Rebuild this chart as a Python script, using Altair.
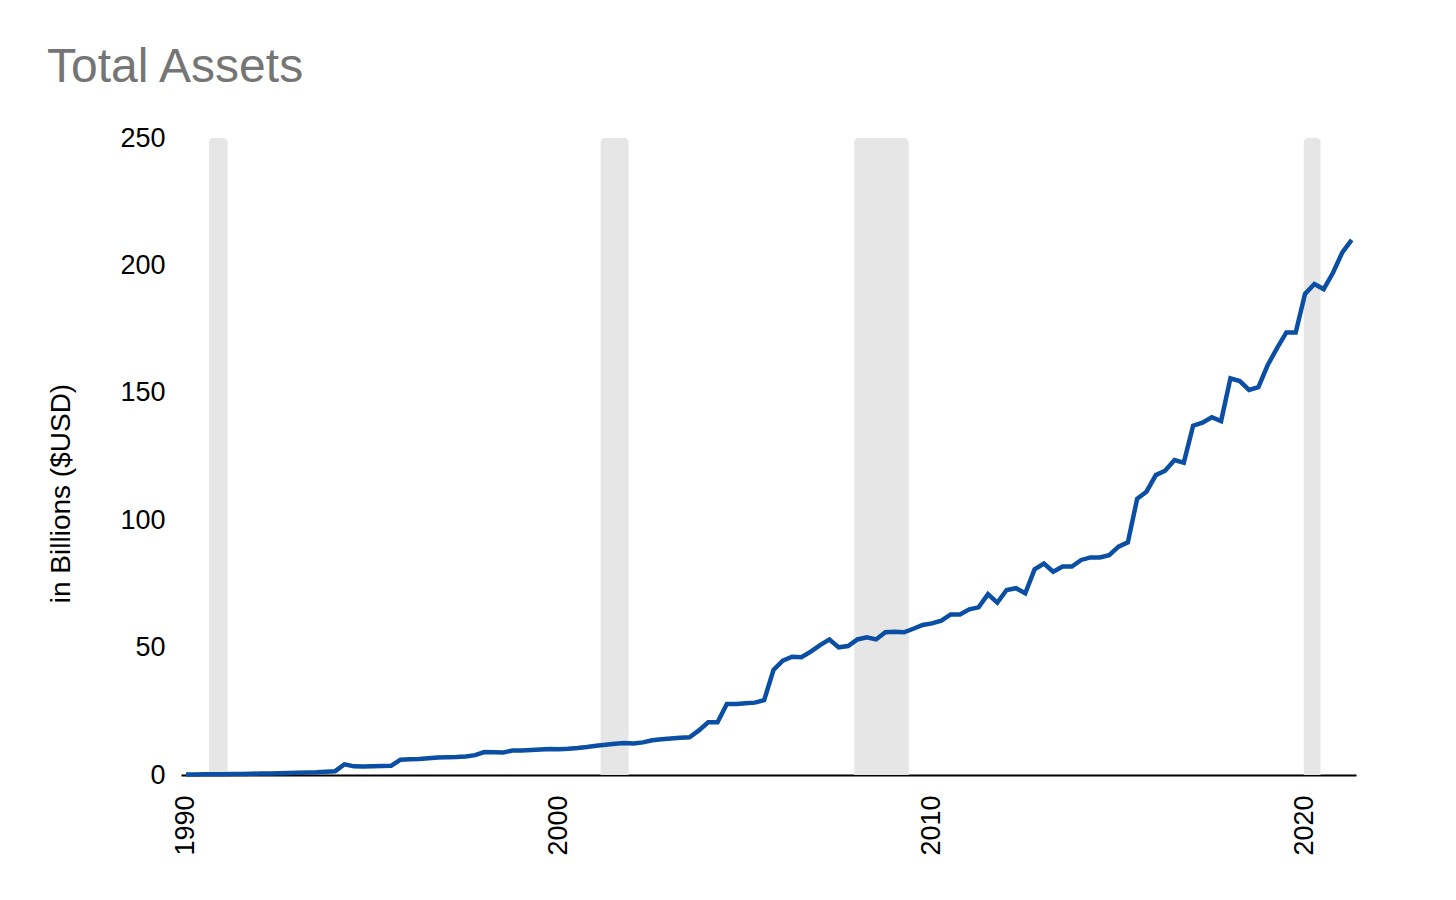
import altair as alt
import pandas as pd

# Quarterly total assets, billions USD (1990 Q1 .. 2021 Q2)
values = [
    0.2, 0.2, 0.3, 0.3, 0.3, 0.4, 0.4, 0.5, 0.6, 0.6,
    0.7, 0.8, 0.9, 1.0, 1.1, 1.3, 1.5, 4.2, 3.4, 3.3,
    3.4, 3.5, 3.6, 6.0, 6.2, 6.3, 6.6, 6.9, 7.0, 7.1,
    7.3, 7.8, 9.0, 8.9, 8.8, 9.6, 9.6, 9.8, 10.0, 10.2,
    10.1, 10.3, 10.6, 11.0, 11.5, 11.9, 12.3, 12.6, 12.4, 12.8,
    13.6, 14.0, 14.3, 14.6, 14.8, 17.5, 20.7, 20.7, 27.9, 27.9,
    28.2, 28.4, 29.4, 41.2, 44.9, 46.4, 46.2, 48.4, 51.0, 53.2,
    50.1, 50.6, 53.2, 54.0, 53.2, 56.0, 56.2, 56.0, 57.4, 58.9,
    59.5, 60.6, 63.0, 63.0, 65.0, 65.8, 71.0, 67.6, 72.6, 73.3,
    71.3, 80.7, 83.0, 79.8, 81.8, 81.8, 84.4, 85.4, 85.4, 86.3,
    89.6, 91.3, 108.4, 111.2, 117.7, 119.4, 123.6, 122.6, 137.1, 138.3,
    140.4, 138.9, 155.7, 154.6, 151.1, 152.2, 160.9, 167.5, 173.7, 173.7,
    188.8, 192.7, 190.7, 197.1, 205.1, 210.0,
]
first_year = 1990 + 1 / 12
years = [first_year + i * 0.25 for i in range(len(values))]

rec_start = [1990.7, 2001.2, 2008.0, 2020.05]
rec_end = [1991.2, 2001.95, 2009.46, 2020.5]

x_ticks = [1990, 2000, 2010, 2020]
y_ticks = [0, 50, 100, 150, 200, 250]

df = pd.DataFrame({"year": years, "assets": values})
rec = pd.DataFrame({"start": rec_start, "end": rec_end,
                    "top": [250] * len(rec_start), "bottom": [0] * len(rec_start)})

FONT = "Liberation Sans"
xscale = alt.Scale(domain=[1989.95, 2021.45], nice=False, zero=False)
yscale = alt.Scale(domain=[0, 250], nice=False)

x_axis = alt.Axis(
    values=x_ticks, format="d", labelAngle=270, labelFontSize=27,
    labelFont=FONT, labelColor="#000000", labelPadding=20, labelOffset=3,
    ticks=False, grid=False, domain=True, domainColor="#000000",
    domainWidth=2, labelFlush=False, labelOverlap=False, title=None,
)
y_axis = alt.Axis(
    values=y_ticks, labelFontSize=27, labelFont=FONT,
    labelColor="#000000", labelPadding=16, ticks=False, grid=False,
    domain=False, title="in Billions ($USD)", titleFont=FONT,
    titleFontSize=28, titleFontWeight="normal", titleColor="#000000",
    titlePadding=44, titleY=355,
)

bands = alt.Chart(rec).mark_rect(
    color="#e6e6e6", cornerRadiusTopLeft=4, cornerRadiusTopRight=4
).encode(
    x=alt.X("start:Q", scale=xscale, axis=x_axis),
    x2="end:Q",
    y=alt.Y("top:Q", scale=yscale, axis=y_axis),
    y2="bottom:Q",
)

line = alt.Chart(df).mark_line(color="#0a4fa3", strokeWidth=4.5).encode(
    x=alt.X("year:Q", scale=xscale, axis=x_axis),
    y=alt.Y("assets:Q", scale=yscale, axis=y_axis),
)

chart = alt.layer(bands, line).properties(
    width=1175,
    height=637,
    padding={"left": 173, "top": 130, "right": 92, "bottom": 90},
    autosize=alt.AutoSizeParams(type="none"),
    title=alt.TitleParams(
        "Total Assets", anchor="start", frame="group", fontSize=48,
        font=FONT, fontWeight="normal", color="#757575",
        baseline="alphabetic", dx=-134, offset=40, dy=46,
    ),
).configure_view(stroke=None)

chart.save("out.html", embed_options={"renderer": "svg", "actions": False})
